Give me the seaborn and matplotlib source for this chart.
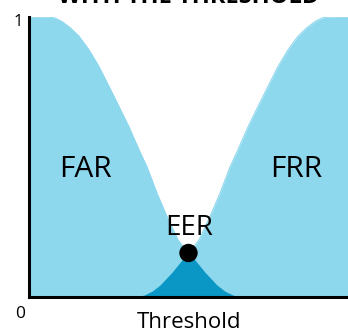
import numpy as np
import pandas as pd
import matplotlib
matplotlib.use("Agg")
import matplotlib.pyplot as plt
import seaborn as sns

# ---- data (threshold on a 0-100 scale, rates 0-1) ----
far_threshold = [0, 3.4, 6.3, 8.2, 10.3, 13.0, 15.7, 18.8, 21.9, 25.1, 28.2, 31.3,
                 34.5, 37.0, 40.1, 43.3, 46.7, 48.3, 50.2, 52.7, 55.2, 58.9, 61.4,
                 63.9, 66.5, 100]
far_rate = [1.0, 1.0, 0.999, 0.995, 0.983, 0.960, 0.930, 0.882, 0.823, 0.751,
            0.680, 0.608, 0.525, 0.464, 0.371, 0.286, 0.204, 0.180, 0.157, 0.123,
            0.088, 0.043, 0.021, 0.007, 0.0, 0.0]

frr_threshold = [0, 33.5, 36.1, 38.6, 41.1, 44.8, 47.3, 49.8, 51.7, 53.3, 56.7,
                 59.9, 63.0, 65.5, 68.7, 71.8, 74.9, 78.1, 81.2, 84.3, 87.0, 89.7,
                 91.8, 93.7, 96.6, 100]
frr_rate = [0.0, 0.0, 0.007, 0.021, 0.043, 0.088, 0.123, 0.157, 0.180, 0.204,
            0.286, 0.371, 0.464, 0.525, 0.608, 0.680, 0.751, 0.823, 0.882, 0.930,
            0.960, 0.983, 0.995, 0.999, 1.0, 1.0]

eer_threshold = [50.0]
eer_rate = [0.157]

curve_labels = ["FAR", "FRR"]
title_text = "WITH THE THRESHOLD"
x_label = "Threshold"
y_tick_labels = ["0", "1"]

LIGHT = "#8ED8EE"
DARK = "#0A97C5"

sns.set_theme(style="white")
plt.rcParams['font.family'] = ['Open Sans', 'DejaVu Sans']

W, H = 348, 331
fig = plt.figure(figsize=(W / 100, H / 100), dpi=100)
ax = fig.add_axes([29 / W, (H - 297) / H, (W - 29) / W, (297 - 16.7) / H])

far_df = pd.DataFrame({"threshold": far_threshold, "rate": far_rate})
frr_df = pd.DataFrame({"threshold": frr_threshold, "rate": frr_rate})

ax.fill_between(far_df["threshold"], 0, far_df["rate"], color=LIGHT, lw=0, zorder=1)
ax.fill_between(frr_df["threshold"], 0, frr_df["rate"], color=LIGHT, lw=0, zorder=1)

# overlap region = min of the two curves on the union grid
grid = np.union1d(far_threshold, frr_threshold)
overlap = np.minimum(np.interp(grid, far_threshold, far_rate),
                     np.interp(grid, frr_threshold, frr_rate))
ax.fill_between(grid, 0, overlap, color=DARK, lw=0, zorder=2)

sns.lineplot(data=far_df, x="threshold", y="rate", ax=ax, color=LIGHT, lw=0.8,
             zorder=1.5, sort=False)
sns.lineplot(data=frr_df, x="threshold", y="rate", ax=ax, color=LIGHT, lw=0.8,
             zorder=1.5, sort=False)

sns.scatterplot(x=eer_threshold, y=eer_rate, ax=ax, color="black", s=175,
                edgecolor="none", zorder=5)

ax.set_xlim(0, 100)
ax.set_ylim(0, 1)
ax.set_xticks([])
ax.set_yticks([])
ax.set_xlabel("")
ax.set_ylabel("")
for s in ["top", "right"]:
    ax.spines[s].set_visible(False)
for s in ["left", "bottom"]:
    ax.spines[s].set_color("black")
    ax.spines[s].set_linewidth(2.2)
    ax.spines[s].set_zorder(6)

ax.text(17.8, 0.455, curve_labels[0], fontsize=21.5, ha="center", va="center", color="black")
ax.text(83.7, 0.455, curve_labels[1], fontsize=21.5, ha="center", va="center", color="black")
ax.text(50.2, 0.245, "EER", fontsize=20, ha="center", va="center", color="black")

fig.text(188.5 / W, 1 - 3.3 / H, title_text, fontsize=17, fontweight="bold",
         ha="center", va="baseline", color="black")
fig.text(189 / W, 1 - 328.5 / H, x_label, fontsize=16, ha="center", va="baseline",
         color="black")
fig.text(18 / W, 1 - 21.5 / H, y_tick_labels[1], fontsize=12, ha="center", va="center",
         color="black")
fig.text(20 / W, 1 - 313.5 / H, y_tick_labels[0], fontsize=12.5, ha="center", va="center",
         color="black")

fig.savefig("out.png", dpi=100)
